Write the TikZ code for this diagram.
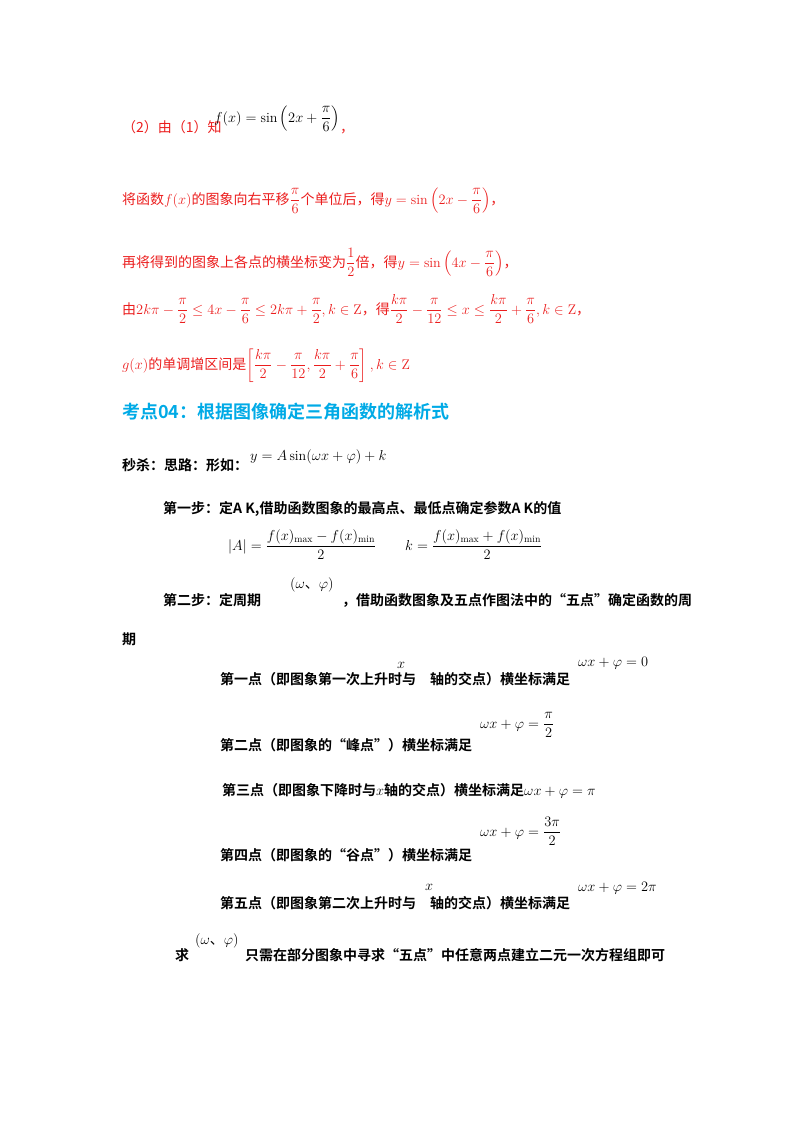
\documentclass[tikz,border=0pt]{standalone}
\usepackage{amsmath,amssymb}
\usepackage{fontspec}
\newfontfamily\cjk{Noto Sans CJK SC}
\newfontfamily\cjkb{Noto Sans CJK SC Bold}
\definecolor{rd}{RGB}{235,30,30}
\definecolor{cy}{RGB}{0,170,230}
\newcommand{\dunhao}{\text{\cjk 、}}
\begin{document}
\begin{tikzpicture}[x=1pt,y=-1pt,
  t/.style={anchor=base west,inner sep=0pt,font=\cjk\fontsize{14}{16}\selectfont},
  r/.style={t,text=rd},
  b/.style={t,font=\cjkb\fontsize{14}{16}\selectfont},
  m/.style={anchor=base west,inner sep=0pt,font=\fontsize{14}{16}\selectfont}]
\useasboundingbox (0,0) rectangle (800,1132);
% red part
\node[r] (a1) at (122,132) {（2）由（1）知};
\node[m] (a2) at (214,122) {$f(x)=\sin\left(2x+\dfrac{\pi}{6}\right)$};
\node[r] (a3) at (340,132) {，};
\node[r] (b1) at (122,204) {将函数$f(x)$的图象向右平移$\dfrac{\pi}{6}$个单位后，得$y=\sin\left(2x-\dfrac{\pi}{6}\right)$，};
\node[r] (c1) at (122,267) {再将得到的图象上各点的横坐标变为$\dfrac12$倍，得$y=\sin\left(4x-\dfrac{\pi}{6}\right)$，};
\node[r] (d1) at (122,314) {由$2k\pi-\dfrac{\pi}{2}\le 4x-\dfrac{\pi}{6}\le 2k\pi+\dfrac{\pi}{2},k\in\mathrm{Z}$，得$\dfrac{k\pi}{2}-\dfrac{\pi}{12}\le x\le\dfrac{k\pi}{2}+\dfrac{\pi}{6},k\in\mathrm{Z}$，};
\node[r] (e1) at (122,369) {$g(x)$的单调增区间是$\left[\dfrac{k\pi}{2}-\dfrac{\pi}{12},\dfrac{k\pi}{2}+\dfrac{\pi}{6}\right],k\in\mathrm{Z}$};
% heading
\node[anchor=base west,inner sep=0pt,text=cy,font=\cjkb\fontsize{18}{20}\selectfont] (h) at (122,418) {考点04：根据图像确定三角函数的解析式};
\node[b] (s1) at (122,470) {秒杀：思路：形如：};
\node[m] (s2) at (250,460) {$y=A\sin(\omega x+\varphi)+k$};
\node[b] (p1) at (163,513) {第一步：定A K,借助函数图象的最高点、最低点确定参数A K的值};
\node[m] (p2) at (228,550) {$|A|=\dfrac{f(x)_{\max}-f(x)_{\min}}{2}$};
\node[m] (p3) at (405,550) {$k=\dfrac{f(x)_{\max}+f(x)_{\min}}{2}$};
\node[b] (q1) at (163,605) {第二步：定周期};
\node[m] (q2) at (290,588) {$(\omega\dunhao\varphi)$};
\node[b] (q3) at (342,605) {，借助函数图象及五点作图法中的“五点”确定函数的周};
\node[b] (q4) at (122,644) {期};
\node[b] (f1) at (220,684) {第一点（即图象第一次上升时与\quad 轴的交点）横坐标满足};
\node[m] (f1x) at (397,668) {$x$};
\node[m] (f1m) at (578,666) {$\omega x+\varphi=0$};
\node[b] (f2) at (220,750) {第二点（即图象的“峰点”）横坐标满足};
\node[m] (f2m) at (480,728) {$\omega x+\varphi=\dfrac{\pi}{2}$};
\node[b] (f3) at (222,795) {第三点（即图象下降时与$x$轴的交点）横坐标满足$\omega x+\varphi=\pi$};
\node[b] (f4) at (220,860) {第四点（即图象的“谷点”）横坐标满足};
\node[m] (f4m) at (480,836) {$\omega x+\varphi=\dfrac{3\pi}{2}$};
\node[b] (f5) at (220,908) {第五点（即图象第二次上升时与\quad 轴的交点）横坐标满足};
\node[m] (f5x) at (425,890) {$x$};
\node[m] (f5m) at (578,891) {$\omega x+\varphi=2\pi$};
\node[b] (g1) at (175,960) {求};
\node[m] (g2) at (195,944) {$(\omega\dunhao\varphi)$};
\node[b] (g3) at (245,960) {只需在部分图象中寻求“五点”中任意两点建立二元一次方程组即可};
\end{tikzpicture}
\end{document}
